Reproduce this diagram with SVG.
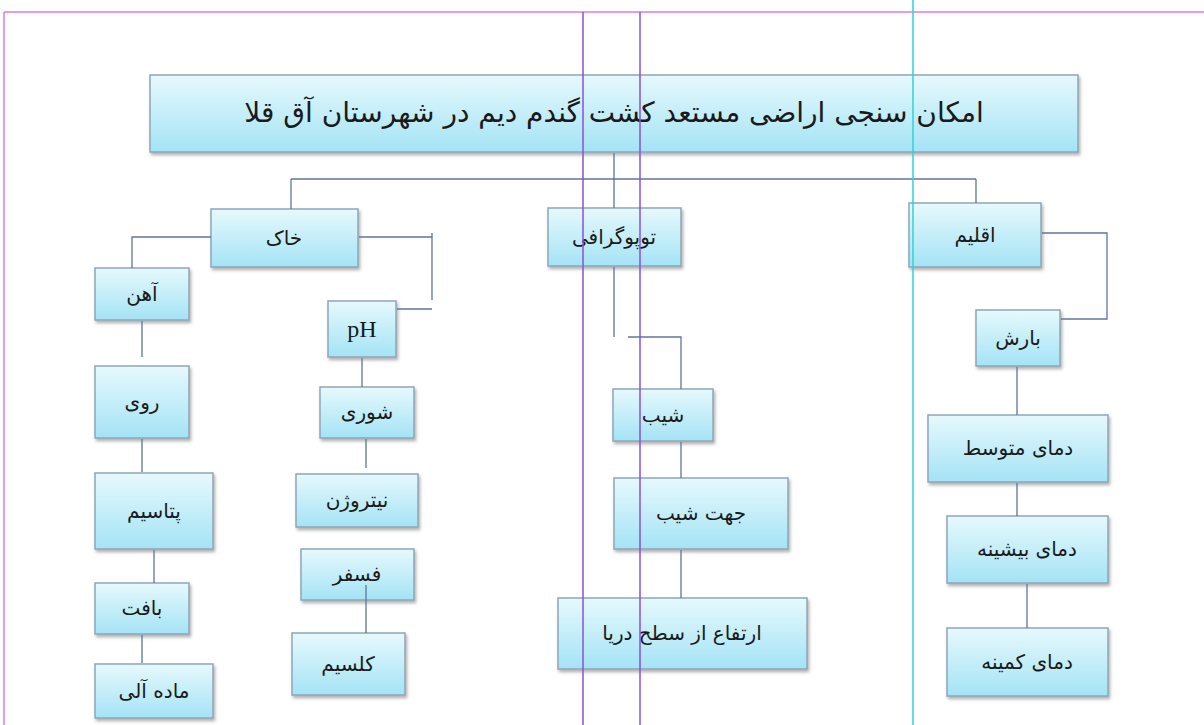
<svg xmlns="http://www.w3.org/2000/svg" width="1204" height="725" viewBox="0 0 1204 725">
<defs>
<linearGradient id="g" x1="0" y1="0" x2="0" y2="1">
<stop offset="0" stop-color="#e6f9fd"/>
<stop offset="1" stop-color="#a4e3f5"/>
</linearGradient>
<filter id="sh" x="-10%" y="-10%" width="130%" height="140%">
<feDropShadow dx="1.5" dy="2.5" stdDeviation="1.5" flood-color="#555" flood-opacity="0.45"/>
</filter>
</defs>
<style>
.box{fill:url(#g);stroke:#8fa6b8;stroke-width:1.5;filter:url(#sh)}
.t{font-family:"DejaVu Sans",sans-serif;font-size:20px;fill:#1a1a1a;text-anchor:middle;dominant-baseline:central}
.c{fill:none;stroke:#60759c;stroke-width:1.3}
.guide{fill:none;stroke-width:1.5}
</style>
<rect width="1204" height="725" fill="#ffffff"/>
<g id="title"><rect class="box" x="150" y="75" width="928" height="77"/><text class="t" x="614" y="112" style="font-size:28px" direction="rtl">امکان سنجی اراضی مستعد کشت گندم دیم در شهرستان آق قلا</text></g>
<g id="khak"><rect class="box" x="211" y="209" width="147" height="58"/><text class="t" x="284" y="238" direction="rtl">خاک</text></g>
<g id="topo"><rect class="box" x="548" y="208" width="133" height="58"/><text class="t" x="614" y="237" direction="rtl">توپوگرافی</text></g>
<g id="eghlim"><rect class="box" x="909" y="203" width="132" height="64"/><text class="t" x="975" y="235" direction="rtl">اقلیم</text></g>
<g id="ahan"><rect class="box" x="95" y="268" width="94" height="52"/><text class="t" x="142" y="294" direction="rtl">آهن</text></g>
<g id="ruy"><rect class="box" x="95" y="366" width="94" height="72"/><text class="t" x="142" y="402" direction="rtl">روی</text></g>
<g id="potasim"><rect class="box" x="95" y="473" width="118" height="76"/><text class="t" x="154" y="511" direction="rtl">پتاسیم</text></g>
<g id="baft"><rect class="box" x="95" y="583" width="94" height="51"/><text class="t" x="142" y="608" direction="rtl">بافت</text></g>
<g id="madde"><rect class="box" x="95" y="664" width="118" height="54"/><text class="t" x="154" y="691" direction="rtl">ماده آلی</text></g>
<g id="ph"><rect class="box" x="328" y="301" width="68" height="56"/><text class="t" x="362" y="329" style="font-family:'Liberation Serif',serif;font-size:24px">pH</text></g>
<g id="shori"><rect class="box" x="320" y="387" width="94" height="51"/><text class="t" x="367" y="412" direction="rtl">شوری</text></g>
<g id="nitrogen"><rect class="box" x="296" y="474" width="122" height="53"/><text class="t" x="357" y="500" direction="rtl">نیتروژن</text></g>
<g id="fosfor"><rect class="box" x="301" y="549" width="113" height="51"/><text class="t" x="357" y="574" direction="rtl">فسفر</text></g>
<g id="kalsim"><rect class="box" x="292" y="633" width="113" height="62"/><text class="t" x="348" y="664" direction="rtl">کلسیم</text></g>
<g id="shib"><rect class="box" x="613" y="389" width="100" height="52"/><text class="t" x="663" y="415" direction="rtl">شیب</text></g>
<g id="jahat"><rect class="box" x="614" y="478" width="174" height="71"/><text class="t" x="701" y="513" direction="rtl">جهت شیب</text></g>
<g id="ertefa"><rect class="box" x="558" y="598" width="249" height="71"/><text class="t" x="682" y="633" direction="rtl">ارتفاع از سطح دریا</text></g>
<g id="bresh"><rect class="box" x="976" y="310" width="84" height="56"/><text class="t" x="1018" y="338" direction="rtl">بارش</text></g>
<g id="motavaset"><rect class="box" x="928" y="415" width="180" height="67"/><text class="t" x="1018" y="448" direction="rtl">دمای متوسط</text></g>
<g id="bishine"><rect class="box" x="947" y="516" width="161" height="67"/><text class="t" x="1027" y="549" direction="rtl">دمای بیشینه</text></g>
<g id="kamine"><rect class="box" x="947" y="628" width="161" height="68"/><text class="t" x="1027" y="662" direction="rtl">دمای کمینه</text></g>
<g id="connectors">
<path class="c" d="M614 153V179M291 179H976M291 179V209M976 179V203M614 179V208"/>
<path class="c" d="M211 237H132V268M142 321V357M142 439V472M154 550V583M142 635V663"/>
<path class="c" d="M359 237H432M432 233V300M397 309H432M362 358V387M366 439V468M366 585V633"/>
<path class="c" d="M614 267V337M628 337H681V389M681 442V478M681 550V598"/>
<path class="c" d="M1042 233H1107V319H1061M1017 367V415M1017 483V516M1027 584V628"/>
</g>
<g id="guides">
<path class="guide" stroke="#dc7fdc" d="M4 12H1204M4 12V725"/>
<path class="guide" stroke="#8a4fe0" d="M583 12V725M640 12V725"/>
<path class="guide" stroke="#2cd3d8" d="M913 0V725"/>
</g>
</svg>
